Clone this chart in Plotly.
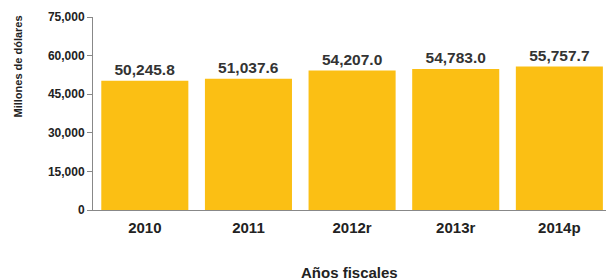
import plotly.graph_objects as go

categories = ["2010", "2011", "2012r", "2013r", "2014p"]
values = [50245.8, 51037.6, 54207.0, 54783.0, 55757.7]
labels = ["50,245.8", "51,037.6", "54,207.0", "54,783.0", "55,757.7"]
y_ticks = [0, 15000, 30000, 45000, 60000, 75000]
y_tick_text = ["0", "15,000", "30,000", "45,000", "60,000", "75,000"]
x_title = "Años fiscales"
y_title = "Millones de dólares"

font_family = "Liberation Sans, Arial, sans-serif"

fig = go.Figure(go.Bar(
    x=categories, y=values,
    marker=dict(color="#FBBF14", line=dict(width=0)),
    text=labels, textposition="outside", cliponaxis=False,
    textfont=dict(family=font_family, size=15.5, color="#333333", weight="bold"),
))

fig.update_layout(
    width=606, height=280,
    margin=dict(l=93, r=0, t=17, b=70),
    paper_bgcolor="white", plot_bgcolor="white",
    bargap=0.16, showlegend=False,
    font=dict(family=font_family, color="#333333"),
    annotations=[
        dict(text="<b>" + x_title + "</b>", xref="paper", yref="paper", x=0.5, y=0,
             xanchor="center", yanchor="middle", yshift=-62.5, showarrow=False,
             font=dict(family=font_family, size=15, color="#222222")),
        dict(text="<b>" + y_title + "</b>", xref="paper", yref="paper", x=0, y=0.7435,
             xanchor="center", yanchor="middle", xshift=-75, textangle=-90, showarrow=False,
             font=dict(family=font_family, size=11, color="#222222")),
    ],
)
fig.update_xaxes(
    type="category", range=[-0.5, 4.45], automargin=False,
    showline=True, linecolor="#888888", linewidth=1,
    ticks="", ticklabelstandoff=4,
    tickfont=dict(family=font_family, size=15, color="#222222", weight="bold"),
    showgrid=False,
)
fig.update_yaxes(
    range=[0, 75000], tickvals=y_ticks, ticktext=y_tick_text, automargin=False,
    showline=True, linecolor="#888888", linewidth=1,
    ticks="outside", ticklen=5, tickcolor="#888888",
    tickfont=dict(family=font_family, size=12, color="#222222", weight="bold"),
    showgrid=False, zeroline=False,
)

fig.write_html("out.html", config={"displayModeBar": False},
               post_script="document.body.style.margin='0';")
